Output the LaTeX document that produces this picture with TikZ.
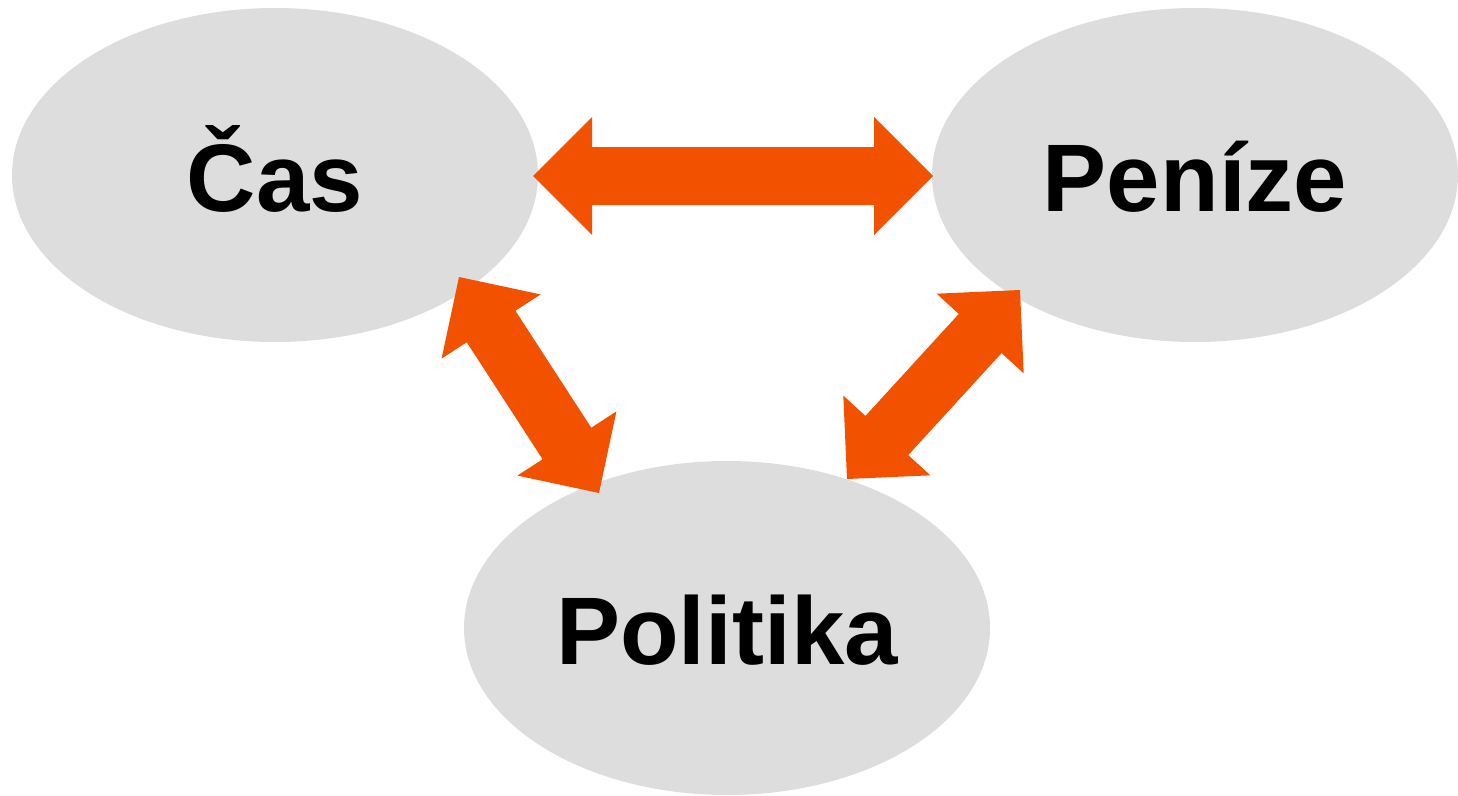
\documentclass[tikz,border=0pt]{standalone}
\usepackage{fontspec}
\setmainfont{Liberation Sans}
\usetikzlibrary{shapes.geometric,calc}
\definecolor{ellgray}{RGB}{221,221,221}
\definecolor{arroworange}{RGB}{242,82,0}
\tikzset{
  bubble/.style={ellipse, fill=ellgray, draw=none, minimum width=526pt, minimum height=334pt, inner sep=0pt,
    font=\fontsize{96}{100}\selectfont\bfseries, text height=72pt, text depth=0pt},
  arrowfill/.style={fill=arroworange}
}
\newcommand\dblarrow[2]{%
  \coordinate (hA) at ($(#1)!59pt!(#2)$);
  \coordinate (hB) at ($(#2)!59pt!(#1)$);
  \fill[arrowfill] (#1) -- ($(hA)!59pt!90:(#2)$) -- ($(hA)!29pt!90:(#2)$)
    -- ($(hB)!29pt!-90:(#1)$) -- ($(hB)!59pt!-90:(#1)$) -- (#2)
    -- ($(hB)!59pt!90:(#1)$) -- ($(hB)!29pt!90:(#1)$)
    -- ($(hA)!29pt!-90:(#2)$) -- ($(hA)!59pt!-90:(#2)$) -- cycle;}
\begin{document}
\begin{tikzpicture}[x=1pt,y=-1pt]
\useasboundingbox (0,0) rectangle (1458,795);
\node[bubble] (cas) at (275,175) {Čas};
\node[bubble] (penize) at (1195,175) {Peníze};
\node[bubble] (politika) at (727,628) {Politika};
% arrow end points
\coordinate (casR) at (533,176);
\coordinate (penL) at (933,176);
\coordinate (casB) at (459,277);
\coordinate (polL) at (599,493);
\coordinate (penB) at (1020,290);
\coordinate (polR) at (847,479);
\dblarrow{casR}{penL}
\dblarrow{casB}{polL}
\dblarrow{penB}{polR}
\end{tikzpicture}
\end{document}
